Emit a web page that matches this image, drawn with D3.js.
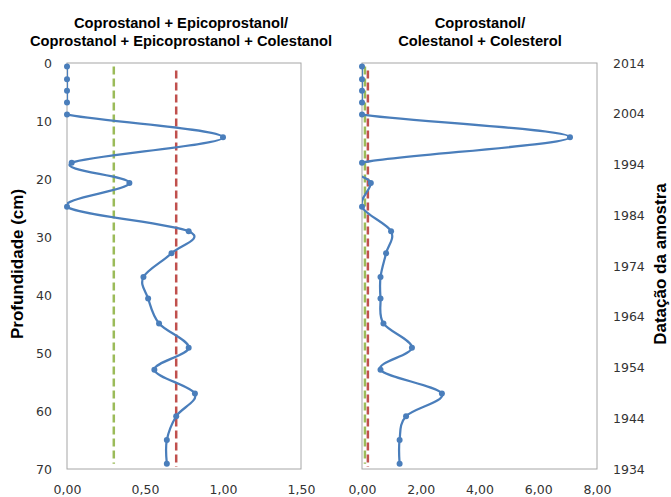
<!DOCTYPE html>
<html>
<head>
<meta charset="utf-8">
<script src="https://cdn.jsdelivr.net/npm/d3@7"></script>
<style>
  body { margin: 0; background: #fff; }
  svg { display: block; }
</style>
</head>
<body>
<svg id="chart" width="671" height="497"></svg>
<script>
// ---- data ----
const depths = [0.6, 2.8, 4.8, 6.8, 8.9, 12.8, 17.2, 20.7, 24.8, 29, 32.8, 36.9, 40.6, 44.9, 49.1, 52.9, 57, 60.9, 65, 69.1];
const ratioA = [0, 0, 0, 0, 0, 1.00, 0.03, 0.40, 0, 0.78, 0.67, 0.49, 0.52, 0.59, 0.78, 0.56, 0.82, 0.70, 0.64, 0.64];
const ratioB = [0, 0, 0, 0, 0, 7.08, 0, 0.30, 0, 0.99, 0.82, 0.63, 0.63, 0.73, 1.70, 0.63, 2.72, 1.50, 1.28, 1.28];
const thresholdsA = [0.3, 0.7];
const thresholdsB = [0.1, 0.2];
const depthTicks = [0, 10, 20, 30, 40, 50, 60, 70];
const yearTicks = [2014, 2004, 1994, 1984, 1974, 1964, 1954, 1944, 1934];
const xTicksA = [0, 0.5, 1.0, 1.5];
const xTicksB = [0, 2, 4, 6, 8];
const titleA = ["Coprostanol + Epicoprostanol/", "Coprostanol + Epicoprostanol + Colestanol"];
const titleB = ["Coprostanol/", "Colestanol + Colesterol"];
const yLabel = "Profundidade (cm)";
const y2Label = "Datação da amostra";

// ---- layout ----
const svg = d3.select("#chart");
const plotTop = 63, plotBottom = 469;
const y = d3.scaleLinear().domain([0, 70]).range([plotTop, plotBottom]);
const yYear = d3.scaleLinear().domain([2014, 1934]).range([plotTop, plotBottom]);
const blue = "#4a7ebb", green = "#9bbb59", red = "#c0504d";
const fmt = v => d3.format(".2f")(v).replace(".", ",");
const tickFont = "'DejaVu Sans', Verdana, sans-serif";
const titleFont = "'Liberation Sans', Arial, sans-serif";

function panel(id, x0, x1, domain, xTicks, values, thresholds, title, titleX) {
  const x = d3.scaleLinear().domain(domain).range([x0, x1]);
  const g = svg.append("g");

  g.append("clipPath").attr("id", "clip" + id)
    .append("rect").attr("x", x0).attr("y", plotTop).attr("width", x1 - x0).attr("height", plotBottom - plotTop);

  // frame
  g.append("rect").attr("x", x0).attr("y", plotTop).attr("width", x1 - x0).attr("height", plotBottom - plotTop)
    .attr("fill", "none").attr("stroke", "#a6a6a6").attr("stroke-width", 1);

  // x axis
  const xa = g.append("g").attr("transform", `translate(0,${plotBottom})`)
    .call(d3.axisBottom(x).tickValues(xTicks).tickFormat(fmt).tickSize(0).tickPadding(16));
  xa.select(".domain").remove();
  xa.selectAll("text").attr("font-family", tickFont).attr("font-size", 12.5).attr("fill", "#333");

  // thresholds
  const thrColors = [green, red];
  thresholds.forEach((t, i) => {
    g.append("line")
      .attr("x1", x(t)).attr("x2", x(t))
      .attr("y1", y(depths[0])).attr("y2", i === 0 ? y(depths[depths.length - 1]) : y(70) - 2)
      .attr("stroke", thrColors[i]).attr("stroke-width", 2.5)
      .attr("stroke-dasharray", "8,4").attr("stroke-dashoffset", i === 0 ? 0 : 8);
  });

  // series
  const pts = depths.map((d, i) => [x(values[i]), y(d)]);
  g.append("path").datum(pts)
    .attr("clip-path", `url(#clip${id})`)
    .attr("d", d3.line().curve(d3.curveCardinal.tension(0)))
    .attr("fill", "none").attr("stroke", blue).attr("stroke-width", 2.25);
  g.selectAll("circle.m").data(pts).enter().append("circle")
    .attr("cx", d => d[0]).attr("cy", d => d[1]).attr("r", 3)
    .attr("fill", blue);

  // title
  const tt = g.append("text").attr("text-anchor", "middle")
    .attr("font-family", titleFont).attr("font-weight", "bold").attr("font-size", 14.7).attr("fill", "#000");
  title.forEach((line, i) => {
    tt.append("tspan").attr("x", titleX).attr("y", 28 + i * 17.5).text(line);
  });
  return x;
}

panel("A", 67, 301, [0, 1.5], xTicksA, ratioA, thresholdsA, titleA, 181);
panel("B", 362, 597, [0, 8], xTicksB, ratioB, thresholdsB, titleB, 480);

// left y axis
const ya = svg.append("g").attr("transform", `translate(67,0)`)
  .call(d3.axisLeft(y).tickValues(depthTicks).tickSize(0).tickPadding(15));
ya.select(".domain").remove();
ya.selectAll("text").attr("font-family", tickFont).attr("font-size", 12.5).attr("fill", "#333");

// right year axis
const yb = svg.append("g").attr("transform", `translate(597,0)`)
  .call(d3.axisRight(yYear).tickValues(yearTicks).tickFormat(d3.format("d")).tickSize(0).tickPadding(16));
yb.select(".domain").remove();
yb.selectAll("text").attr("font-family", tickFont).attr("font-size", 12.5).attr("fill", "#333");

// axis labels
svg.append("text").attr("transform", "translate(23,264) rotate(-90)")
  .attr("text-anchor", "middle").attr("font-family", titleFont).attr("font-weight", "bold")
  .attr("font-size", 17).text(yLabel);
svg.append("text").attr("transform", "translate(666,264) rotate(-90)")
  .attr("text-anchor", "middle").attr("font-family", titleFont).attr("font-weight", "bold")
  .attr("font-size", 17).text(y2Label);
</script>
</body>
</html>
